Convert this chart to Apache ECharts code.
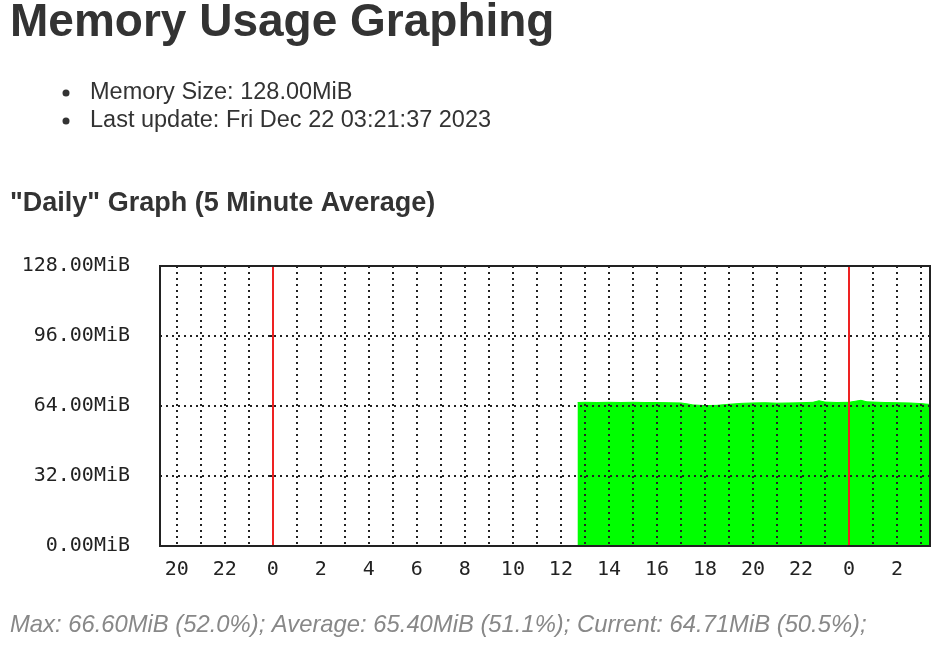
<!DOCTYPE html>
<html>
<head>
<meta charset="utf-8">
<title>Memory Usage Graphing</title>
<script src="https://cdn.jsdelivr.net/npm/echarts@6/dist/echarts.min.js"></script>
<style>
  html, body { margin: 0; padding: 0; background: #fff; }
  #chart { width: 940px; height: 654px; }
</style>
</head>
<body>
<div id="chart"></div>
<script>
const pageTitle = 'Memory Usage Graphing';
const infoLines = [
  'Memory Size: 128.00MiB',
  'Last update: Fri Dec 22 03:21:37 2023',
];
const graphTitle = '"Daily" Graph (5 Minute Average)';
const summaryLine = 'Max: 66.60MiB (52.0%); Average: 65.40MiB (51.1%); Current: 64.71MiB (50.5%);';

// x is hours from Dec 21 00:00, so 24 is Dec 22 00:00
const axisStartHour = -4.7;
const axisEndHour = 27.375;
const gridHours = [-4, -3, -2, -1, 0, 1, 2, 3, 4, 5, 6, 7, 8, 9, 10, 11, 12, 13, 14, 15,
  16, 17, 18, 19, 20, 21, 22, 23, 24, 25, 26, 27];
const labelHours = [-4, -2, 0, 2, 4, 6, 8, 10, 12, 14, 16, 18, 20, 22, 24, 26];
const dayBoundaries = [0, 24];

const memMax = 128;
const memStep = 32;

const sampleHours = [12.7, 13, 13.5, 14, 14.5, 15, 15.5, 16, 16.5, 17, 17.3, 17.5, 18, 18.5,
  19, 19.5, 20, 20.5, 21, 21.5, 22, 22.5, 22.75, 23, 23.5, 24, 24.5, 24.75, 25, 25.5, 26,
  26.5, 27, 27.375];
const memUsedMiB = [65.6, 65.7, 65.6, 65.7, 65.6, 65.7, 65.6, 65.6, 65.5, 65.4, 64.9, 64.5,
  64.2, 64.3, 64.8, 65.2, 65.4, 65.5, 65.3, 65.4, 65.5, 65.7, 66.4, 65.8, 65.6, 65.7, 66.6,
  65.9, 65.8, 65.6, 65.5, 65.4, 65.1, 64.71];

const INK = '#222';
const TEXT = '#333';
const dotted = { color: INK, width: 2, type: [2, 4] };
const axisFont = { fontFamily: 'DejaVu Sans Mono', fontSize: 20, color: INK };

const chart = echarts.init(document.getElementById('chart'));

const textEl = (text, x, y, font, fill) => ({
  type: 'text',
  x,
  y,
  style: { text, font, fill, verticalAlign: 'middle' },
});

chart.setOption({
  backgroundColor: '#fff',
  animation: false,
  grid: {
    left: 160,
    right: 10,
    top: 266,
    bottom: 108,
    show: true,
    borderColor: INK,
    borderWidth: 2,
    z: 5,
  },
  xAxis: {
    type: 'value',
    min: axisStartHour,
    max: axisEndHour,
    z: 3,
    axisLine: { show: false },
    axisTick: { show: false, customValues: gridHours },
    splitLine: { show: true, lineStyle: dotted },
    axisLabel: {
      ...axisFont,
      margin: 14,
      customValues: labelHours,
      formatter: v => String(((v % 24) + 24) % 24),
    },
  },
  yAxis: {
    type: 'value',
    min: 0,
    max: memMax,
    interval: memStep,
    z: 3,
    axisLine: { show: false },
    axisTick: { show: true, length: 3, lineStyle: { color: INK, width: 2 } },
    splitLine: { show: true, lineStyle: dotted },
    axisLabel: {
      ...axisFont,
      margin: 30,
      padding: [5, 0, 0, 0],
      formatter: v => v.toFixed(2) + 'MiB',
    },
  },
  series: [
    {
      name: 'Memory',
      type: 'line',
      data: sampleHours.map((h, i) => [h, memUsedMiB[i]]),
      showSymbol: false,
      lineStyle: { color: '#00ff00', width: 1 },
      areaStyle: { color: '#00ff00', opacity: 1 },
      z: 2,
    },
    {
      name: 'Day',
      type: 'line',
      data: [],
      markLine: {
        silent: true,
        symbol: 'none',
        label: { show: false },
        lineStyle: { color: '#ee2222', width: 2, type: 'solid' },
        data: dayBoundaries.map(h => ({ xAxis: h })),
        z: 4,
      },
    },
  ],
  graphic: [
    textEl(pageTitle, 10, 23, 'bold 46px "Liberation Sans"', TEXT),
    { type: 'circle', shape: { cx: 66, cy: 93, r: 3.5 }, style: { fill: TEXT } },
    { type: 'circle', shape: { cx: 66, cy: 121, r: 3.5 }, style: { fill: TEXT } },
    textEl(infoLines[0], 90, 93, '23.5px "Liberation Sans"', TEXT),
    textEl(infoLines[1], 90, 121, '23.5px "Liberation Sans"', TEXT),
    textEl(graphTitle, 10, 204, 'bold 27px "Liberation Sans"', TEXT),
    textEl(summaryLine, 10, 625, 'italic 23.8px "Liberation Sans"', '#888'),
  ],
});
</script>
</body>
</html>
